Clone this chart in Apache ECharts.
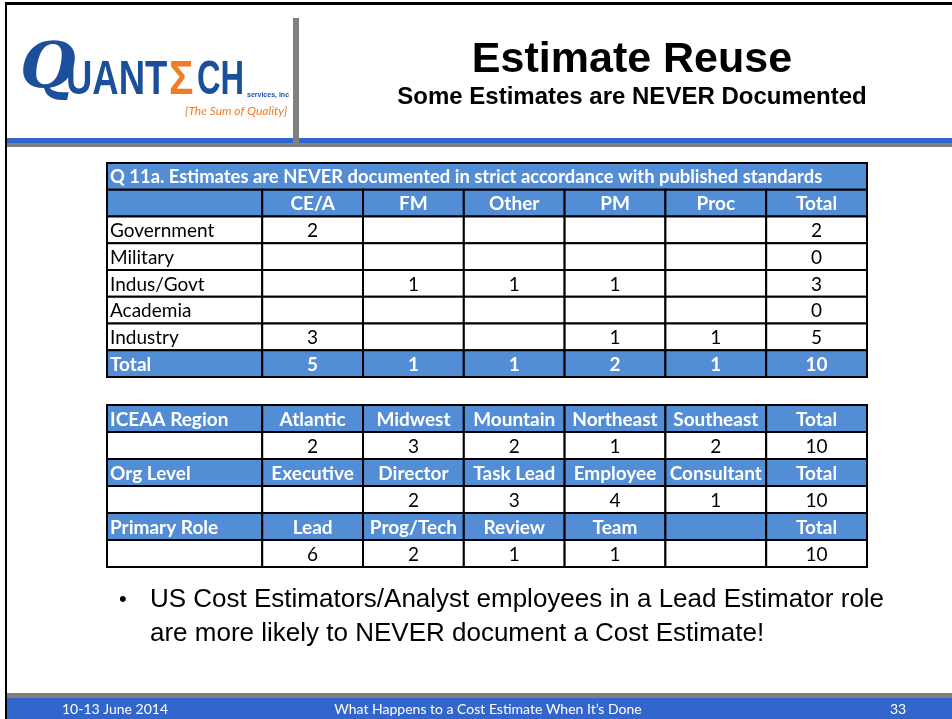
<!DOCTYPE html>
<html>
<head>
<meta charset="utf-8">
<script src="https://cdn.jsdelivr.net/npm/echarts@6/dist/echarts.min.js"></script>
<style>
  html, body { margin: 0; padding: 0; background: #fff; }
  #slide { width: 952px; height: 719px; }
</style>
</head>
<body>
<div id="slide"></div>
<script>
  // Q 11a table
  const q11Title = 'Q 11a. Estimates are NEVER documented in strict accordance with published standards';
  const roleCols = ['CE/A', 'FM', 'Other', 'PM', 'Proc', 'Total'];
  const sectors = ['Government', 'Military', 'Indus/Govt', 'Academia', 'Industry'];
  const ceaCounts = [2, null, null, null, 3];
  const fmCounts = [null, null, 1, null, null];
  const otherCounts = [null, null, 1, null, null];
  const pmCounts = [null, null, 1, null, 1];
  const procCounts = [null, null, null, null, 1];
  const sectorTotals = [2, 0, 3, 0, 5];
  const colTotals = [5, 1, 1, 2, 1, 10];

  // demographics table
  const regionLabels = ['Atlantic', 'Midwest', 'Mountain', 'Northeast', 'Southeast', 'Total'];
  const regionCounts = [2, 3, 2, 1, 2, 10];
  const orgLabels = ['Executive', 'Director', 'Task Lead', 'Employee', 'Consultant', 'Total'];
  const orgCounts = [null, 2, 3, 4, 1, 10];
  const primaryLabels = ['Lead', 'Prog/Tech', 'Review', 'Team', '', 'Total'];
  const primaryCounts = [6, 2, 1, 1, null, 10];

  const blue = '#538dd5';
  const colUnits = [1.54, 1, 1, 1, 1, 1, 1];
  const tableFont = 'Lato';

  function colStart(c) {
    let s = 0;
    for (let i = 0; i < c; i++) s += colUnits[i];
    return s;
  }
  const totalUnits = colStart(colUnits.length);

  function txt(v) { return v === null || v === undefined ? '' : String(v); }

  // cells: {c, r, span, text, kind}
  const cells1 = [];
  cells1.push({ c: 0, r: 0, span: 7, text: q11Title, kind: 'title' });
  cells1.push({ c: 0, r: 1, span: 1, text: '', kind: 'head' });
  roleCols.forEach((n, i) => cells1.push({ c: i + 1, r: 1, span: 1, text: n, kind: 'head' }));
  const byRole = [ceaCounts, fmCounts, otherCounts, pmCounts, procCounts];
  sectors.forEach((s, j) => {
    cells1.push({ c: 0, r: j + 2, span: 1, text: s, kind: 'lab' });
    byRole.forEach((arr, i) => cells1.push({ c: i + 1, r: j + 2, span: 1, text: txt(arr[j]), kind: 'num' }));
    cells1.push({ c: 6, r: j + 2, span: 1, text: txt(sectorTotals[j]), kind: 'num' });
  });
  cells1.push({ c: 0, r: 7, span: 1, text: 'Total', kind: 'headL' });
  colTotals.forEach((v, i) => cells1.push({ c: i + 1, r: 7, span: 1, text: txt(v), kind: 'head' }));

  const cells2 = [];
  [['ICEAA Region', regionLabels, regionCounts],
   ['Org Level', orgLabels, orgCounts],
   ['Primary Role', primaryLabels, primaryCounts]].forEach((g, k) => {
    cells2.push({ c: 0, r: k * 2, span: 1, text: g[0], kind: 'headL' });
    g[1].forEach((n, i) => cells2.push({ c: i + 1, r: k * 2, span: 1, text: n, kind: 'head' }));
    cells2.push({ c: 0, r: k * 2 + 1, span: 1, text: '', kind: 'num' });
    g[2].forEach((v, i) => cells2.push({ c: i + 1, r: k * 2 + 1, span: 1, text: txt(v), kind: 'num' }));
  });

  function toData(cells) {
    return cells.map(cl => [colStart(cl.c), cl.r, colStart(cl.c + cl.span)]);
  }

  function cellRenderer(cells) {
    return function (params, api) {
      const cl = cells[params.dataIndex];
      const p0 = api.coord([api.value(0), api.value(1)]);
      const p1 = api.coord([api.value(2), api.value(1) + 1]);
      const filled = cl.kind === 'title' || cl.kind === 'head' || cl.kind === 'headL';
      const leftAlign = cl.kind === 'title' || cl.kind === 'headL' || cl.kind === 'lab';
      const size = cl.kind === 'title' ? 18.4 : 19;
      return {
        type: 'group',
        children: [
          {
            type: 'rect',
            shape: { x: p0[0], y: p0[1], width: p1[0] - p0[0], height: p1[1] - p0[1] },
            style: { fill: filled ? blue : '#fff', stroke: '#000', lineWidth: 2 }
          },
          {
            type: 'text',
            style: {
              text: cl.text,
              x: leftAlign ? p0[0] + 3 : (p0[0] + p1[0]) / 2,
              y: (p0[1] + p1[1]) / 2 + 1,
              align: leftAlign ? 'left' : 'center',
              verticalAlign: 'middle',
              fill: filled ? '#fff' : '#000',
              font: (filled ? 'bold ' : '') + size + 'px ' + tableFont
            }
          }
        ]
      };
    };
  }

  function hiddenAxis(idx, max, inverse) {
    return {
      type: 'value', gridIndex: idx, min: 0, max: max, inverse: !!inverse,
      axisLine: { show: false }, axisTick: { show: false },
      axisLabel: { show: false }, splitLine: { show: false }
    };
  }

  const chart = echarts.init(document.getElementById('slide'), null, { renderer: 'canvas' });

  const option = {
    animation: false,
    backgroundColor: '#fff',
    grid: [
      { left: 107, top: 163, width: 760, height: 214 },
      { left: 107, top: 405, width: 760, height: 162 }
    ],
    xAxis: [hiddenAxis(0, totalUnits), hiddenAxis(1, totalUnits)],
    yAxis: [hiddenAxis(0, 8, true), hiddenAxis(1, 6, true)],
    series: [
      {
        type: 'custom', xAxisIndex: 0, yAxisIndex: 0, clip: false,
        data: toData(cells1), renderItem: cellRenderer(cells1), silent: true
      },
      {
        type: 'custom', xAxisIndex: 1, yAxisIndex: 1, clip: false,
        data: toData(cells2), renderItem: cellRenderer(cells2), silent: true
      }
    ],
    graphic: [
      // frame
      { type: 'rect', shape: { x: 5, y: 2, width: 947, height: 3 }, style: { fill: '#000' } },
      { type: 'rect', shape: { x: 5, y: 2, width: 2, height: 717 }, style: { fill: '#000' } },
      // header bands
      { type: 'rect', shape: { x: 7, y: 138, width: 945, height: 5 }, style: { fill: '#3366cc' } },
      { type: 'rect', shape: { x: 7, y: 143, width: 945, height: 4 }, style: { fill: '#808080' } },
      { type: 'rect', shape: { x: 293, y: 18, width: 6, height: 125 }, style: { fill: '#808080' } },
      // logo
      { type: 'text', x: 20, y: 70, style: { text: 'Q', font: 'italic bold 64px "DejaVu Serif"', fill: '#1b4f9c', verticalAlign: 'middle' } },
      { type: 'text', x: 66, y: 81, scaleX: 0.76, style: { text: 'UANT', font: 'bold 48px "Liberation Sans"', fill: '#1b4f9c', verticalAlign: 'middle' } },
      { type: 'text', x: 169, y: 81, scaleX: 0.85, style: { text: '\u03a3', font: 'bold 48px "Liberation Sans"', fill: '#f07d26', verticalAlign: 'middle' } },
      { type: 'text', x: 197, y: 81, scaleX: 0.68, style: { text: 'CH', font: 'bold 48px "Liberation Sans"', fill: '#1b4f9c', verticalAlign: 'middle' } },
      { type: 'text', x: 247, y: 95, style: { text: 'services, inc', font: 'bold 7px "Liberation Sans"', fill: '#1b4f9c', verticalAlign: 'middle' } },
      { type: 'text', x: 185, y: 111, style: { text: '{The Sum of Quality}', font: 'italic 12px Lato', fill: '#f07d26', verticalAlign: 'middle' } },
      // titles
      { type: 'text', x: 632, y: 60, style: { text: 'Estimate Reuse', font: 'bold 43px "Liberation Sans"', fill: '#000', align: 'center', verticalAlign: 'middle' } },
      { type: 'text', x: 632, y: 97, style: { text: 'Some Estimates are NEVER Documented', font: 'bold 24px "Liberation Sans"', fill: '#000', align: 'center', verticalAlign: 'middle' } },
      // bullet
      { type: 'text', x: 119, y: 600, style: { text: '\u2022', font: '22px "Liberation Sans"', fill: '#000', verticalAlign: 'middle' } },
      { type: 'text', x: 150, y: 600, style: { text: 'US Cost Estimators/Analyst employees in a Lead Estimator role', font: '26px "Liberation Sans"', fill: '#000', verticalAlign: 'middle' } },
      { type: 'text', x: 150, y: 634, style: { text: 'are more likely to NEVER document a Cost Estimate!', font: '26px "Liberation Sans"', fill: '#000', verticalAlign: 'middle' } },
      // footer
      { type: 'rect', shape: { x: 7, y: 693, width: 945, height: 5 }, style: { fill: '#808080' } },
      { type: 'rect', shape: { x: 7, y: 698, width: 945, height: 21 }, style: { fill: '#3366cc' } },
      { type: 'text', x: 62, y: 709, style: { text: '10-13 June 2014', font: '14px Lato', fill: '#fff', verticalAlign: 'middle' } },
      { type: 'text', x: 488, y: 709, style: { text: 'What Happens to a Cost Estimate When It\u2019s Done', font: '14px Lato', fill: '#fff', align: 'center', verticalAlign: 'middle' } },
      { type: 'text', x: 898, y: 709, style: { text: '33', font: '14px Lato', fill: '#fff', align: 'center', verticalAlign: 'middle' } }
    ]
  };

  chart.setOption(option);
</script>
</body>
</html>
